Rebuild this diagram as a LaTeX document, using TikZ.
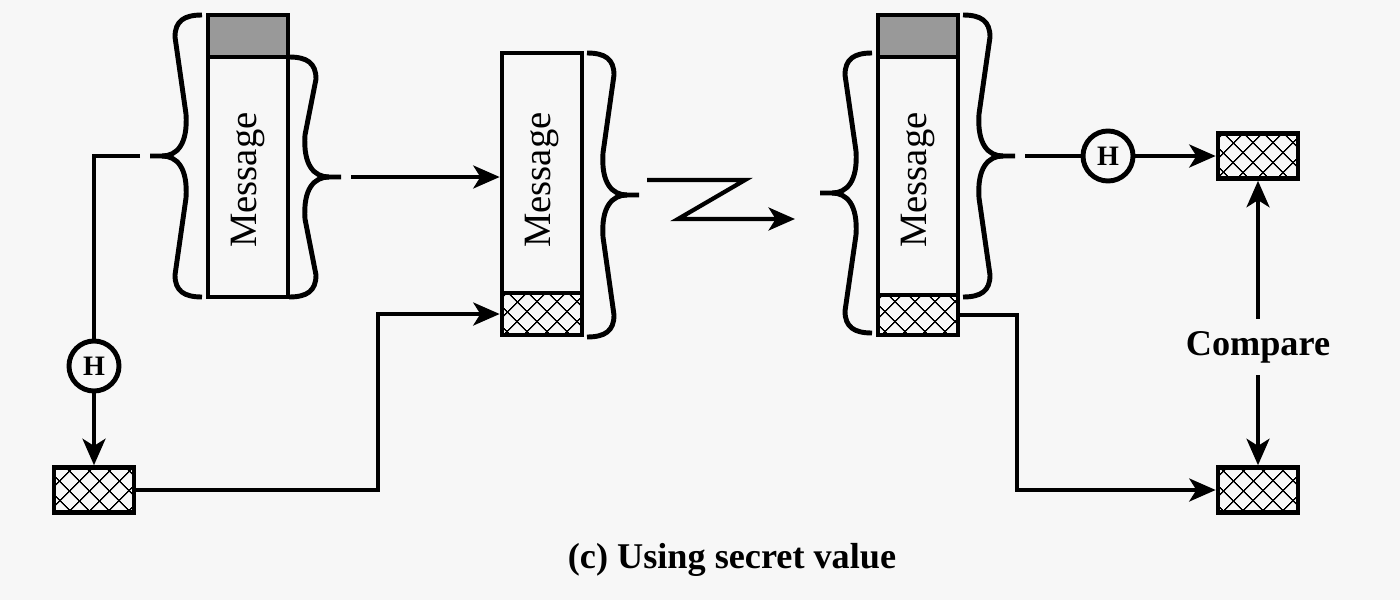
\documentclass[tikz,border=0pt]{standalone}
\usepackage{fontspec}
\setmainfont{Liberation Serif}
\usetikzlibrary{arrows.meta,patterns.meta}
\definecolor{bgc}{HTML}{F7F7F7}
\definecolor{hdrc}{HTML}{999999}
\tikzset{
  ln/.style={line width=1.2pt},
  brl/.style={line width=1.4pt},
  arr/.style={ln,-{Stealth[length=7.5pt,width=6.5pt,inset=2pt]}},
  blk/.style={draw,line width=1.3pt,rectangle,inner sep=0pt,minimum width=0.8cm},
  hdrbox/.style={blk,fill=hdrc},
  hatchbox/.style={blk,
    postaction={pattern={Lines[angle=45,distance=4pt,line width=0.4pt]}},
    postaction={pattern={Lines[angle=-45,distance=4pt,line width=0.4pt]}}},
  msg/.style={rotate=90,font=\fontsize{11}{13}\selectfont},
  hcirc/.style={draw,circle,line width=1.4pt,minimum size=0.5cm,inner sep=0pt,
    font=\fontsize{8}{9}\selectfont\bfseries},
  lbl/.style={font=\fontsize{10.3}{12}\selectfont\bfseries}
}
\newcommand{\mybrace}[5]{%
  \begin{scope}[shift={(#1,#2)},xscale=#4]
    \draw[brl] (0,-#3) .. controls (18,-#3) and (27,-#3+6) .. (27,-#3+22)
      -- (16,-42) .. controls (14,-12) and (25,0) .. (40,0) -- (52,0);
    \draw[brl] (40,0) .. controls (25,0) and (14,12) .. (16,42)
      -- (27,#3-22) .. controls (27,#3-6) and (18,#3) .. (0,#3);
    \coordinate (#5) at (62,0);
  \end{scope}}
\begin{document}
\begin{tikzpicture}[x=0.01cm,y=-0.01cm]
\useasboundingbox (0,0) rectangle (1400,600);
\fill[bgc] (0,0) rectangle (1400,600);

% left block
\node[hdrbox,minimum height=0.42cm] (hdr1) at (248,36) {};
\node[blk,minimum height=2.4cm] (body1) at (248,177) {};
\node[msg] (m1) at (248,180) {Message};
\mybrace{202}{156}{141}{-1}{b1out}
\mybrace{289}{177}{120}{1}{b2out}

% middle block
\node[blk,minimum height=2.4cm] (body2) at (542,173) {};
\node[hatchbox,minimum height=0.42cm] (hat2) at (542,314) {};
\node[msg] (m2) at (542,180) {Message};
\mybrace{587}{195}{142}{1}{b3out}

% right block
\node[hdrbox,minimum height=0.42cm] (hdr3) at (918,36) {};
\node[blk,minimum height=2.38cm] (body3) at (918,176) {};
\node[hatchbox,minimum height=0.4cm] (hat3) at (918,315) {};
\node[msg] (m3) at (918,180) {Message};
\mybrace{872}{193}{140}{-1}{b4out}
\mybrace{963}{156}{141}{1}{b5out}

% hash boxes and H
\node[hcirc] (h1) at (94,366) {H};
\node[hatchbox,minimum height=0.45cm] (hb1) at (94,490) {};
\node[hcirc] (h2) at (1108,156) {H};
\node[hatchbox,minimum height=0.45cm] (hb2) at (1258,156) {};
\node[hatchbox,minimum height=0.45cm] (hb3) at (1258,490) {};
\node[lbl] (cmp) at (1258,347) {Compare};

% connectors
\draw[ln] (b1out) -| (h1.north);
\draw[arr] (h1.south) -- (hb1.north);
\draw[arr] (b2out) -- (b2out -| body2.west);
\coordinate (k1) at (378,314);
\draw[arr] (hb1.east) -| (k1) -- (hat2.west);
\coordinate (z0) at (647,180);
\coordinate (z1) at (745,180);
\coordinate (z2) at (678,219);
\coordinate (z3) at (795,219);
\draw[arr] (z0) -- (z1) -- (z2) -- (z3);
\draw[ln] (b5out) -- (h2.west);
\draw[arr] (h2.east) -- (hb2.west);
\coordinate (k2) at (1017,490);
\draw[arr] (hat3.east) -| (k2) -- (hb3.west);
\draw[arr] (cmp.north) -- (hb2.south);
\draw[arr] (cmp.south) -- (hb3.north);

\node[lbl] (cap) at (732,560) {(c) Using secret value};
\end{tikzpicture}
\end{document}
